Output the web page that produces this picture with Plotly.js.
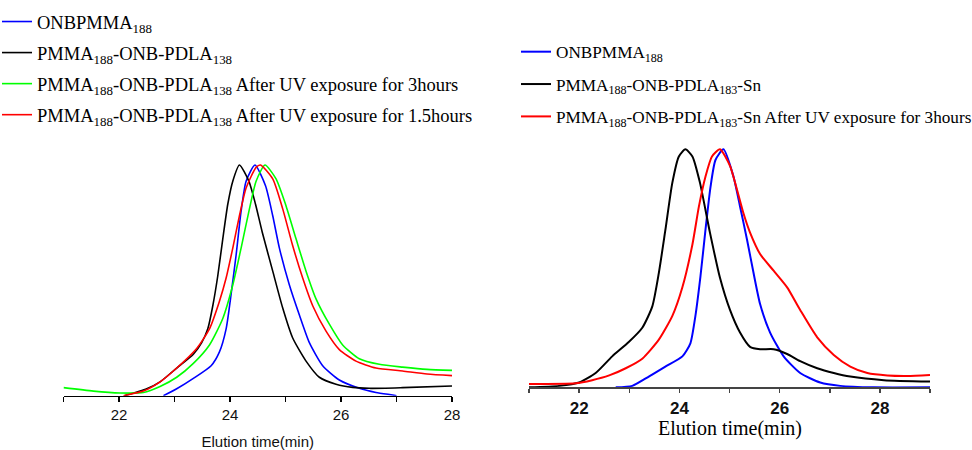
<!DOCTYPE html>
<html>
<head>
<meta charset="utf-8">
<script src="https://cdn.plot.ly/plotly-3.0.1.min.js"></script>
<style>html,body{margin:0;padding:0;background:#fff;}#chart{width:972px;height:450px;}</style>
</head>
<body>
<div id="chart"></div>
<script>
// ---- Left panel data (normalized intensity vs elution time, min) ----
const L_blue_x  = [22.8, 23.04, 23.34, 23.66, 23.81, 23.93, 24.02, 24.11, 24.2, 24.29, 24.45, 24.64, 24.77, 24.89, 25.07, 25.25, 25.43, 25.67, 25.97, 26.33, 26.63, 26.93, 27.0];
const L_blue_y  = [0, 0.03, 0.075, 0.13, 0.19, 0.29, 0.44, 0.61, 0.80, 0.93, 1.0, 0.91, 0.78, 0.64, 0.48, 0.35, 0.23, 0.13, 0.068, 0.032, 0.014, 0.003, 0];
const L_black_x = [22.1, 22.5, 22.74, 23.04, 23.34, 23.49, 23.6, 23.69, 23.78, 23.87, 23.96, 24.05, 24.17, 24.34, 24.46, 24.58, 24.77, 24.95, 25.13, 25.37, 25.61, 25.91, 26.21, 26.51, 27.11, 28.0];
const L_black_y = [0.0, 0.03, 0.06, 0.12, 0.18, 0.23, 0.29, 0.39, 0.52, 0.68, 0.83, 0.93, 1.0, 0.93, 0.83, 0.71, 0.54, 0.38, 0.25, 0.15, 0.08, 0.05, 0.036, 0.032, 0.035, 0.042];
const L_green_x = [21.0, 21.54, 22.02, 22.44, 22.74, 23.04, 23.34, 23.63, 23.87, 24.05, 24.2, 24.35, 24.47, 24.63, 24.83, 25.0, 25.19, 25.37, 25.55, 25.79, 26.03, 26.33, 26.69, 27.11, 27.55, 28.0];
const L_green_y = [0.035, 0.02, 0.012, 0.014, 0.04, 0.08, 0.14, 0.22, 0.335, 0.48, 0.64, 0.81, 0.93, 1.0, 0.94, 0.83, 0.68, 0.54, 0.42, 0.31, 0.22, 0.16, 0.136, 0.124, 0.114, 0.11];
const L_red_x   = [22.08, 22.44, 22.74, 23.04, 23.4, 23.63, 23.81, 23.93, 24.05, 24.17, 24.29, 24.47, 24.55, 24.77, 24.95, 25.13, 25.31, 25.49, 25.73, 25.97, 26.27, 26.63, 27.11, 27.55, 28.0];
const L_red_y   = [0, 0.02, 0.06, 0.12, 0.205, 0.29, 0.41, 0.51, 0.64, 0.78, 0.90, 0.99, 1.0, 0.94, 0.81, 0.65, 0.51, 0.39, 0.28, 0.20, 0.15, 0.12, 0.107, 0.094, 0.087];

// ---- Right panel data ----
const R_blue_x  = [22.73, 23.06, 23.39, 23.72, 24.06, 24.22, 24.32, 24.42, 24.52, 24.62, 24.72, 24.88, 25.08, 25.21, 25.35, 25.48, 25.61, 25.81, 26.08, 26.41, 26.81, 27.21, 27.88, 29.0];
const R_blue_y  = [0, 0.006, 0.045, 0.087, 0.13, 0.185, 0.30, 0.465, 0.66, 0.84, 0.955, 1.0, 0.885, 0.76, 0.62, 0.48, 0.35, 0.23, 0.13, 0.06, 0.02, 0.006, 0, 0];
const R_black_x = [21.0, 21.6, 22.0, 22.33, 22.66, 22.99, 23.26, 23.46, 23.59, 23.72, 23.86, 23.99, 24.12, 24.26, 24.41, 24.61, 24.81, 25.01, 25.21, 25.41, 25.61, 25.88, 26.15, 26.41, 26.75, 27.08, 27.41, 28.08, 29.0];
const R_black_y = [0, 0.006, 0.02, 0.06, 0.13, 0.19, 0.25, 0.34, 0.48, 0.66, 0.86, 0.97, 1.0, 0.97, 0.86, 0.65, 0.46, 0.325, 0.23, 0.17, 0.16, 0.16, 0.14, 0.11, 0.08, 0.06, 0.045, 0.03, 0.024];
const R_red_x   = [21.0, 21.93, 22.26, 22.6, 22.93, 23.26, 23.59, 23.86, 24.06, 24.26, 24.39, 24.52, 24.65, 24.81, 25.01, 25.15, 25.28, 25.41, 25.61, 25.88, 26.15, 26.41, 26.75, 27.08, 27.41, 27.75, 28.15, 28.55, 29.0];
const R_red_y   = [0.014, 0.017, 0.03, 0.05, 0.08, 0.12, 0.2, 0.30, 0.42, 0.60, 0.76, 0.885, 0.97, 1.0, 0.93, 0.83, 0.73, 0.65, 0.56, 0.49, 0.42, 0.325, 0.21, 0.136, 0.087, 0.06, 0.05, 0.048, 0.052];

// ---- Labels ----
const L_names = [
  'ONBPMMA<sub>188</sub>',
  'PMMA<sub>188</sub>-ONB-PDLA<sub>138</sub>',
  'PMMA<sub>188</sub>-ONB-PDLA<sub>138</sub> After UV exposure for 3hours',
  'PMMA<sub>188</sub>-ONB-PDLA<sub>138</sub> After UV exposure for 1.5hours'
];
const R_names = [
  'ONBPMMA<sub>188</sub>',
  'PMMA<sub>188</sub>-ONB-PDLA<sub>183</sub>-Sn',
  'PMMA<sub>188</sub>-ONB-PDLA<sub>183</sub>-Sn After UV exposure for 3hours'
];
const L_ticks = [22, 24, 26, 28];
const R_ticks = [22, 24, 26, 28];
const xTitle = 'Elution time(min)';

const BLUE = '#0000ff', BLACK = '#000000', GREEN = '#00ff00', RED = '#ff0000';

function tr(x, y, name, color, ax, leg, grp, w) {
  return {x: x, y: y, name: name, type: 'scatter', mode: 'lines',
    line: {color: color, width: w, shape: 'spline', smoothing: 0.6},
    xaxis: ax === 1 ? 'x' : 'x2', yaxis: ax === 1 ? 'y' : 'y2',
    legend: leg, legendgroup: grp, hoverinfo: 'skip'};
}

const data = [
  tr(L_blue_x, L_blue_y, L_names[0], BLUE, 1, 'legend', 'a1', 1.6),
  tr(L_black_x, L_black_y, L_names[1], BLACK, 1, 'legend', 'a2', 1.6),
  tr(L_green_x, L_green_y, L_names[2], GREEN, 1, 'legend', 'a3', 1.6),
  tr(L_red_x, L_red_y, L_names[3], RED, 1, 'legend', 'a4', 1.6),
  tr(R_blue_x, R_blue_y, R_names[0], BLUE, 2, 'legend2', 'b1', 2),
  tr(R_black_x, R_black_y, R_names[1], BLACK, 2, 'legend2', 'b2', 2),
  tr(R_red_x, R_red_y, R_names[2], RED, 2, 'legend2', 'b3', 2)
];

const W = 972, H = 450;
const layout = {
  width: W, height: H,
  margin: {l: 0, r: 0, t: 0, b: 0, autoexpand: false},
  paper_bgcolor: '#fff', plot_bgcolor: 'rgba(0,0,0,0)',
  showlegend: true,
  xaxis: {
    domain: [63.5 / W, 452 / W], range: [21, 28], anchor: 'y', automargin: false,
    showline: true, linecolor: '#000', linewidth: 1.5, showgrid: false, zeroline: false,
    tickmode: 'array', tickvals: L_ticks, ticktext: L_ticks.map(String),
    ticks: 'outside', ticklen: 5, tickwidth: 1.2, tickcolor: '#000',
    minor: {tickmode: 'linear', tick0: 21, dtick: 1, ticks: 'outside', ticklen: 5, tickwidth: 1.2, tickcolor: '#000', showgrid: false},
    tickfont: {family: 'Liberation Sans, Arial, sans-serif', size: 15, color: '#111'},
    title: {text: xTitle, font: {family: 'Liberation Sans, Arial, sans-serif', size: 15, color: '#111'}, standoff: 14}
  },
  yaxis: {
    domain: [1 - 395.7 / H, 1 - 153.5 / H], range: [0, 1.05], anchor: 'x',
    visible: false, showgrid: false, zeroline: false
  },
  xaxis2: {
    domain: [529 / W, 930 / W], range: [21, 29], anchor: 'y2', automargin: false,
    showline: true, linecolor: '#444', linewidth: 2, showgrid: false, zeroline: false,
    tickmode: 'array', tickvals: R_ticks, ticktext: R_ticks.map(String),
    ticks: 'outside', ticklen: 4, tickwidth: 1.5, tickcolor: '#444',
    minor: {tickmode: 'linear', tick0: 21, dtick: 1, ticks: 'outside', ticklen: 4, tickwidth: 1.5, tickcolor: '#444', showgrid: false},
    tickfont: {family: 'Liberation Sans, Arial, sans-serif', size: 17, color: '#111', weight: 'bold'}
  },
  yaxis2: {
    domain: [1 - 387.3 / H, 1 - 137.4 / H], range: [0, 1.05], anchor: 'x2',
    visible: false, showgrid: false, zeroline: false
  },
  annotations: [{
    text: xTitle, xref: 'x2 domain', yref: 'paper', x: 0.5, y: 1 - 428 / H,
    xanchor: 'center', yanchor: 'middle', showarrow: false,
    font: {family: 'Liberation Serif, Times New Roman, serif', size: 20, color: '#000'}
  }],
  legend: {
    x: -3 / W, y: 1 - 3 / H, xanchor: 'left', yanchor: 'top',
    bgcolor: 'rgba(0,0,0,0)', borderwidth: 0, tracegroupgap: 4, traceorder: 'grouped',
    font: {family: 'Liberation Serif, Times New Roman, serif', size: 18.5, color: '#000'}
  },
  legend2: {
    x: 516 / W, y: 1 - 34 / H, xanchor: 'left', yanchor: 'top',
    bgcolor: 'rgba(0,0,0,0)', borderwidth: 0, tracegroupgap: 7, traceorder: 'grouped',
    font: {family: 'Liberation Serif, Times New Roman, serif', size: 17.2, color: '#000'}
  }
};

Plotly.newPlot('chart', data, layout, {staticPlot: true, displayModeBar: false});
</script>
</body>
</html>
